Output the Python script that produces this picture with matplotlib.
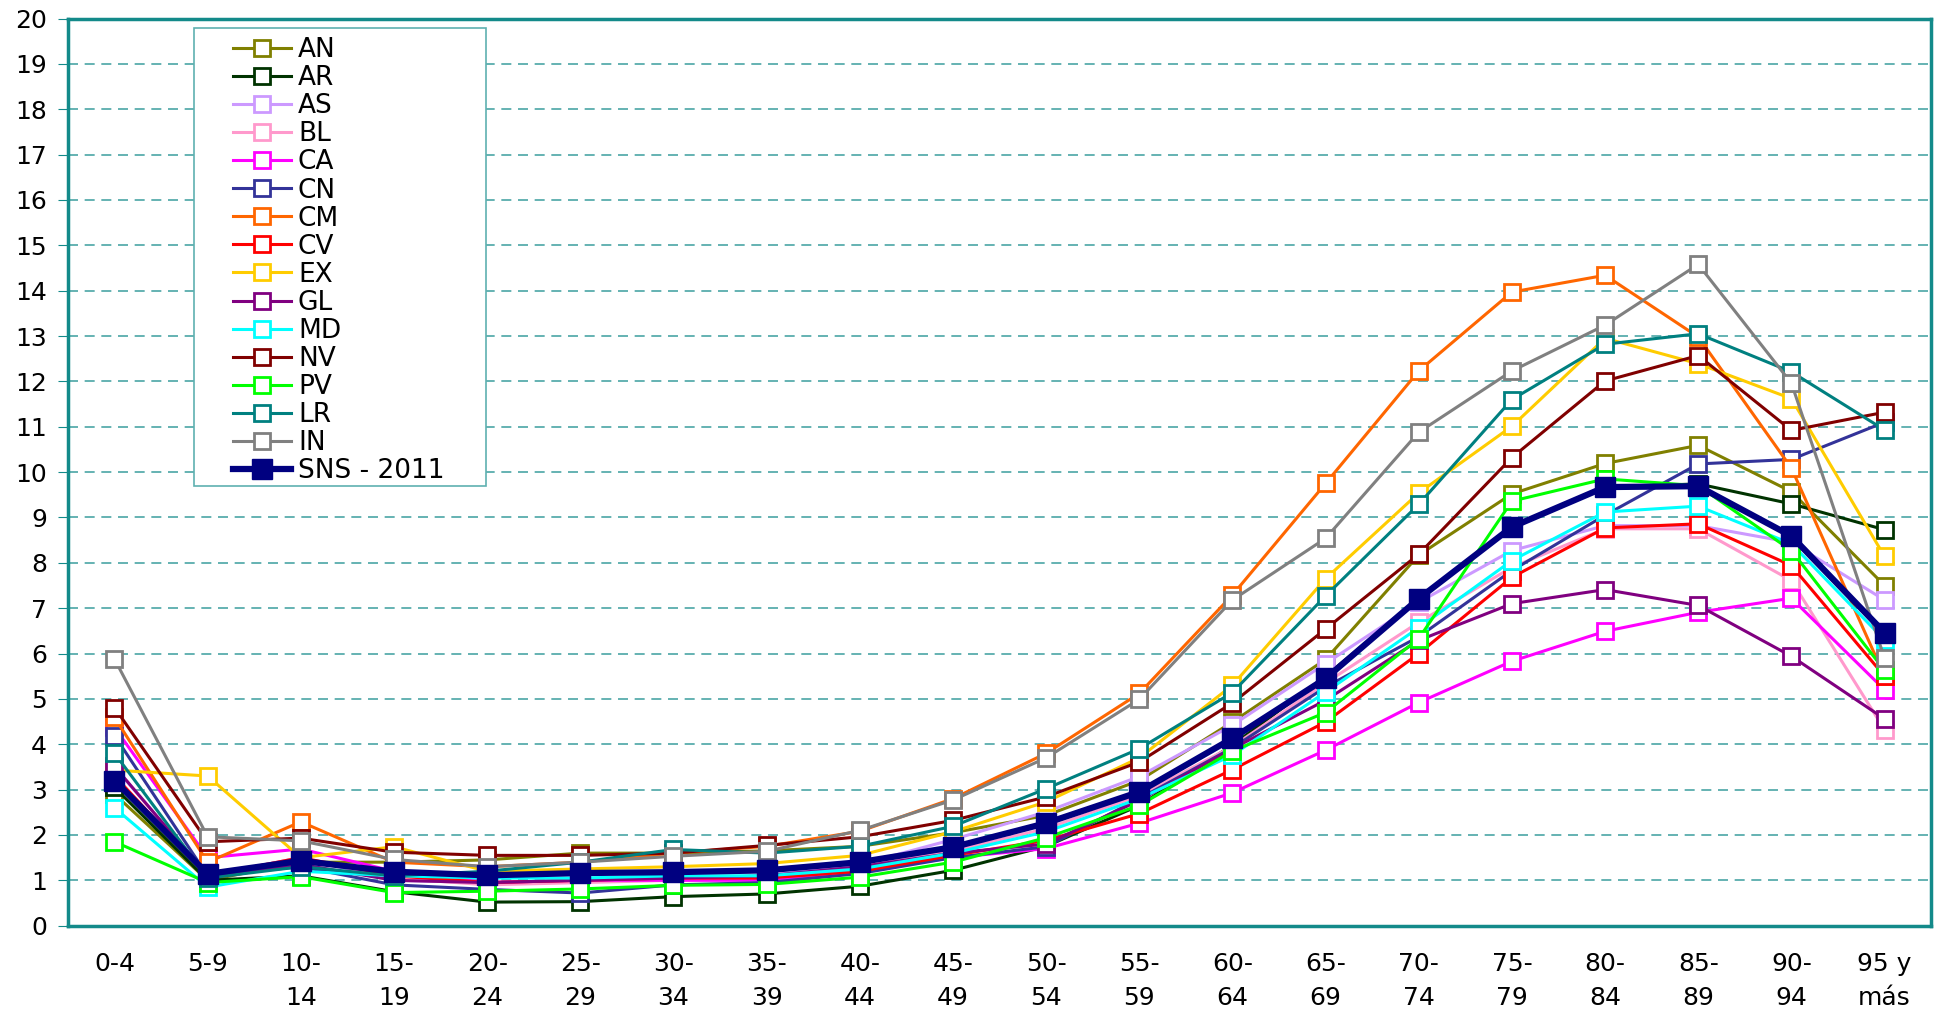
import matplotlib
matplotlib.use('agg')
import matplotlib.pyplot as plt
from matplotlib.patches import Rectangle
import numpy as np

# age groups (x axis categories)
grupos = ['0-4', '5-9', '10-\n14', '15-\n19', '20-\n24', '25-\n29', '30-\n34', '35-\n39', '40-\n44',
          '45-\n49', '50-\n54', '55-\n59', '60-\n64', '65-\n69', '70-\n74', '75-\n79', '80-\n84',
          '85-\n89', '90-\n94', '95 y\nmás']

# values, one list per region
AN = [2.9, 1.0, 1.4, 1.4, 1.45, 1.6, 1.6, 1.65, 1.75, 2.05, 2.43, 3.2, 4.49, 5.87, 8.17, 9.52, 10.19, 10.59, 9.57, 7.5]
AR = [3.05, 1.0, 1.1, 0.75, 0.52, 0.53, 0.64, 0.7, 0.87, 1.22, 1.75, 2.65, 3.98, 5.5, 7.2, 8.8, 9.67, 9.74, 9.3, 8.73]
AS = [3.5, 1.1, 1.5, 1.0, 0.95, 1.0, 1.05, 1.1, 1.35, 1.9, 2.51, 3.29, 4.42, 5.78, 7.13, 8.27, 8.82, 8.82, 8.45, 7.18]
BL = [3.3, 1.1, 1.5, 1.05, 0.9, 0.95, 1.0, 1.05, 1.3, 1.65, 2.14, 2.87, 3.95, 5.35, 6.69, 7.9, 8.75, 8.75, 7.61, 4.32]
CA = [4.37, 1.5, 1.69, 1.2, 0.95, 1.0, 1.0, 1.0, 1.2, 1.5, 1.7, 2.26, 2.93, 3.87, 4.92, 5.83, 6.49, 6.91, 7.22, 5.2]
CN = [4.19, 1.1, 1.3, 0.9, 0.8, 0.72, 0.9, 0.95, 1.15, 1.5, 1.74, 2.8, 3.92, 5.26, 6.37, 7.83, 9.05, 10.18, 10.28, 11.1]
CM = [4.59, 1.4, 2.29, 1.4, 1.3, 1.4, 1.6, 1.75, 2.08, 2.8, 3.8, 5.12, 7.29, 9.75, 12.23, 13.97, 14.34, 12.98, 10.09, 5.5]
CV = [3.3, 1.1, 1.5, 1.1, 0.95, 1.0, 1.05, 1.05, 1.2, 1.55, 1.88, 2.47, 3.44, 4.49, 6.0, 7.68, 8.77, 8.86, 7.94, 5.5]
EX = [3.43, 3.3, 1.5, 1.74, 1.2, 1.25, 1.3, 1.37, 1.55, 2.07, 2.73, 3.7, 5.3, 7.65, 9.54, 11.01, 12.95, 12.39, 11.62, 8.14]
GL = [3.51, 1.1, 1.35, 1.0, 0.95, 1.0, 1.05, 1.1, 1.3, 1.6, 1.8, 2.76, 3.9, 4.97, 6.29, 7.1, 7.41, 7.06, 5.94, 4.56]
MD = [2.6, 0.85, 1.2, 1.1, 1.05, 1.05, 1.1, 1.1, 1.25, 1.6, 2.07, 2.8, 3.76, 5.15, 6.57, 8.05, 9.12, 9.25, 8.42, 6.3]
NV = [4.81, 1.85, 1.93, 1.62, 1.55, 1.55, 1.6, 1.77, 1.96, 2.32, 2.84, 3.61, 4.91, 6.54, 8.19, 10.32, 12.01, 12.57, 10.92, 11.32]
PV = [1.85, 0.95, 1.08, 0.73, 0.76, 0.81, 0.89, 0.91, 1.07, 1.4, 1.94, 2.65, 3.85, 4.7, 6.33, 9.36, 9.85, 9.7, 8.27, 5.63]
LR = [3.8, 1.05, 1.3, 1.1, 1.2, 1.4, 1.68, 1.6, 1.75, 2.19, 3.02, 3.9, 5.14, 7.27, 9.29, 11.6, 12.82, 13.05, 12.21, 10.93]
IN = [5.88, 1.96, 1.87, 1.46, 1.3, 1.4, 1.53, 1.64, 2.1, 2.77, 3.7, 4.99, 7.18, 8.54, 10.88, 12.23, 13.24, 14.58, 11.96, 5.9]
SNS = [3.2, 1.14, 1.43, 1.19, 1.11, 1.16, 1.18, 1.22, 1.4, 1.73, 2.26, 2.95, 4.13, 5.45, 7.21, 8.79, 9.67, 9.69, 8.59, 6.46]

nombres = ['AN', 'AR', 'AS', 'BL', 'CA', 'CN', 'CM', 'CV', 'EX', 'GL', 'MD', 'NV', 'PV', 'LR', 'IN']
series = [AN, AR, AS, BL, CA, CN, CM, CV, EX, GL, MD, NV, PV, LR, IN]
colores = ['#808000', '#003300', '#CC99FF', '#FF99CC', '#FF00FF', '#333399', '#FF6600', '#FF0000',
           '#FFCC00', '#800080', '#00FFFF', '#800000', '#00FF00', '#008080', '#808080']

teal = '#138a8a'
plt.rcParams['font.family'] = ['DejaVu Sans']

fig = plt.figure(figsize=(19.35, 10.13), dpi=100)
ax = fig.add_axes([0.0351, 0.0862, 0.9629, 0.8955])

x = np.arange(len(grupos))
for nombre, vals, col in zip(nombres, series, colores):
    ax.plot(x, vals, color=col, linewidth=2.2, marker='s', markersize=11,
            markerfacecolor='white', markeredgecolor=col, markeredgewidth=2.0, label=nombre)
# national total, thicker and filled
ax.plot(x, SNS, color='#000080', linewidth=4.5, marker='s', markersize=14,
        markerfacecolor='#000080', markeredgecolor='#000080', label='SNS - 2011', zorder=5)

ax.set_xlim(-0.5, len(grupos) - 0.5)
ax.set_ylim(0, 20)
ax.set_yticks(range(0, 21))
ax.set_xticks(x)
ax.set_xticklabels(grupos, fontsize=18, linespacing=1.5, va='top')

# dashed horizontal grid
for v in range(1, 20):
    ax.axhline(v, color='#4aa5a5', linewidth=1.2, linestyle=(0, (6, 4)), zorder=0)

for s in ax.spines.values():
    s.set_color(teal)
    s.set_linewidth(2.5)
ax.tick_params(axis='y', labelsize=18, length=7, color=teal, pad=8)
ax.tick_params(axis='x', length=0, pad=19)

# legend without frame, box drawn behind it
ax.add_patch(Rectangle((194 / 1935, 1 - 486 / 1013), (486 - 194) / 1935, (486 - 28) / 1013,
                       transform=fig.transFigure, facecolor='white', edgecolor='#5fb0b0',
                       linewidth=1.2, zorder=8, clip_on=False))
leg = ax.legend(loc='upper left', bbox_to_anchor=(0.0828, 0.991), frameon=False, fontsize=19,
                handlelength=2.2, handletextpad=0.27, labelspacing=0.078, borderaxespad=0)
leg.set_zorder(10)

fig.savefig('out.png', dpi=100)
plt.close()
